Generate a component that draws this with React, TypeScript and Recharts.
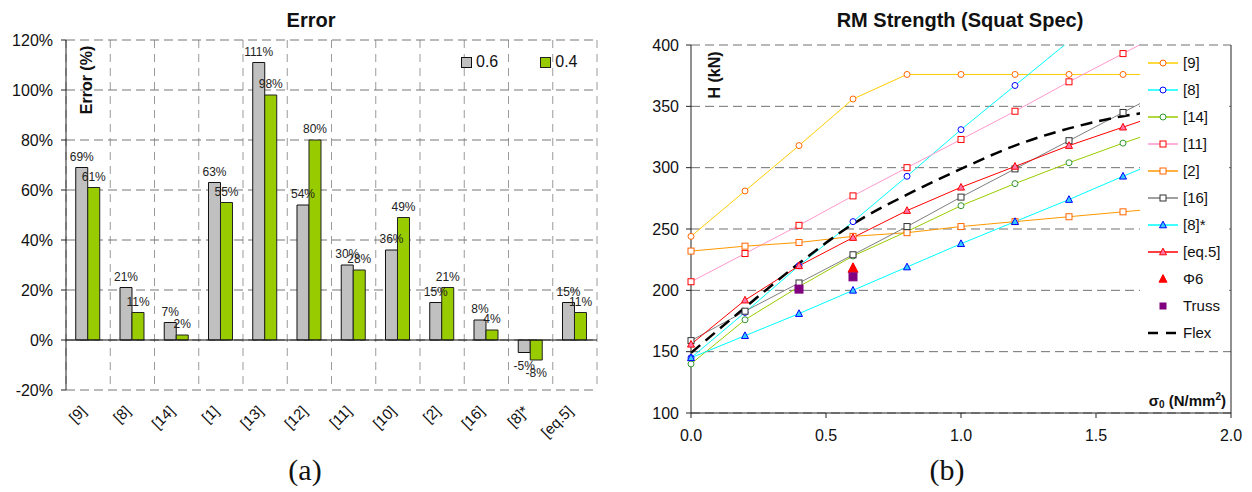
import React from 'react';
import {
  BarChart, Bar, XAxis, YAxis, CartesianGrid, ReferenceLine, LabelList,
  ComposedChart, Line,
} from 'recharts';

const FONT = '"Liberation Sans", Arial, sans-serif';
const SERIF = '"Liberation Serif", "Times New Roman", serif';

// (a) error per reference, two stress levels
const refs = ['[9]', '[8]', '[14]', '[1]', '[13]', '[12]', '[11]', '[10]', '[2]', '[16]', '[8]*', '[eq.5]'];
const err06 = [69, 21, 7, 63, 111, 54, 30, 36, 15, 8, -5, 15];
const err04 = [61, 11, 2, 55, 98, 80, 28, 49, 21, 4, -8, 11];
const errTicks = [-20, 0, 20, 40, 60, 80, 100, 120];

// (b) RM strength vs sigma0
const sigma = [0, 0.2, 0.4, 0.6, 0.8, 1.0, 1.2, 1.4, 1.6, 1.8];
const h9 = [244, 281, 318, 356, 376, 376, 376, 376, 376, 376];
const h8 = [145, 182, 220, 256, 293, 331, 367, 403];
const h14 = [140, 176, 203, 228, 248, 269, 287, 304, 320, 335];
const h11 = [207, 230, 253, 277, 300, 323, 346, 370, 393, 416];
const h2 = [232, 236, 239, 244, 247, 252, 256, 260, 264, 268];
const h16 = [159, 183, 206, 229, 252, 276, 299, 322, 345, 368];
const h8s = [145, 163, 181, 200, 219, 238, 256, 274, 293, 311];
const hEq5 = [156, 192, 220, 243, 265, 284, 301, 318, 333, 348];
const phi6X = [0.6];
const phi6 = [218];
const trussX = [0.4, 0.6];
const truss = [201, 211];
const flex = [149, 186, 222, 254, 278, 299, 318, 332, 342, 348];
const hTicks = [100, 150, 200, 250, 300, 350, 400];
const sTicks = [0, 0.5, 1, 1.5, 2];

const errData = refs.map((name, i) => ({ name, e06: err06[i], e04: err04[i] }));
const pts = (xs: number[], ys: number[]) => ys.map((y, i) => ({ x: xs[i], y }));

type Shape = 'circle' | 'square' | 'triangle' | 'none';
interface Series {
  name: string;
  data: { x: number; y: number }[];
  line: string;
  shape: Shape;
  mark: string;
  fill: string;
  size: number;
  width?: number;
  dash?: string;
  smooth?: boolean;
}

const series: Series[] = [
  { name: '[9]', data: pts(sigma, h9), line: '#FFCC00', shape: 'circle', mark: '#FF6600', fill: '#fff', size: 6 },
  { name: '[8]', data: pts(sigma, h8), line: '#00FFFF', shape: 'circle', mark: '#0000FF', fill: '#fff', size: 6 },
  { name: '[14]', data: pts(sigma, h14), line: '#99CC00', shape: 'circle', mark: '#339933', fill: '#fff', size: 6 },
  { name: '[11]', data: pts(sigma, h11), line: '#FF99CC', shape: 'square', mark: '#FF0000', fill: '#fff', size: 6 },
  { name: '[2]', data: pts(sigma, h2), line: '#FF9900', shape: 'square', mark: '#FF6600', fill: '#fff', size: 6 },
  { name: '[16]', data: pts(sigma, h16), line: '#808080', shape: 'square', mark: '#333333', fill: '#fff', size: 6 },
  { name: '[8]*', data: pts(sigma, h8s), line: '#00FFFF', shape: 'triangle', mark: '#0000FF', fill: '#33CCFF', size: 7 },
  { name: '[eq.5]', data: pts(sigma, hEq5), line: '#FF0000', shape: 'triangle', mark: '#FF0000', fill: '#FF77AA', size: 7 },
  { name: 'Φ6', data: pts(phi6X, phi6), line: 'none', shape: 'triangle', mark: '#FF0000', fill: '#FF0000', size: 10 },
  { name: 'Truss', data: pts(trussX, truss), line: 'none', shape: 'square', mark: '#800080', fill: '#800080', size: 8 },
  { name: 'Flex', data: pts(sigma, flex), line: '#000', shape: 'none', mark: '#000', fill: '#000', size: 0, width: 2.5, dash: '12 7', smooth: true },
];

function Marker({ cx, cy, s }: { cx: number; cy: number; s: Series }) {
  const h = s.size / 2;
  if (s.shape === 'circle') return <circle cx={cx} cy={cy} r={h} fill={s.fill} stroke={s.mark} strokeWidth={1} />;
  if (s.shape === 'square') return <rect x={cx - h} y={cy - h} width={s.size} height={s.size} fill={s.fill} stroke={s.mark} strokeWidth={1} />;
  if (s.shape === 'triangle') {
    const p = `${cx},${cy - h * 1.1} ${cx - h},${cy + h * 0.8} ${cx + h},${cy + h * 0.8}`;
    return <polygon points={p} fill={s.fill} stroke={s.mark} strokeWidth={1} />;
  }
  return null;
}

const barLabel = (props: any) => {
  const vb = props.viewBox ?? props;
  const x = vb.x ?? props.x;
  const y = vb.y ?? props.y;
  const w = vb.width ?? props.width;
  const hgt = vb.height ?? props.height;
  const v = Number(props.value);
  const top = Math.min(y, y + hgt);
  const bottom = Math.max(y, y + hgt);
  const ty = v < 0 ? bottom + 17 : top - 7;
  return (
    <text x={x + w / 2} y={ty} textAnchor="middle" fontSize={12} fontFamily={FONT} fill="#222">
      {v}%
    </text>
  );
};

const RotTick = (props: any) => {
  const { x, y, payload } = props;
  const px = x - 1;
  const py = y + 14;
  return (
    <text x={px} y={py} transform={`rotate(-45 ${px} ${py})`} textAnchor="end" fontSize={15} fontFamily={FONT} fill="#111">
      {payload.value}
    </text>
  );
};

const abs = (style: React.CSSProperties): React.CSSProperties => ({ position: 'absolute', whiteSpace: 'nowrap', ...style });

function ErrorChart() {
  return (
    <>
      <div style={abs({ left: 0, top: 0 })}>
        <BarChart width={620} height={492} data={errData} margin={{ top: 40, right: 23, bottom: 0, left: 0 }} barCategoryGap="22%" barGap={0}>
          <CartesianGrid
            horizontal={false}
            stroke="#9a9a9a"
            strokeDasharray="8 6"
            verticalCoordinatesGenerator={({ offset }: any) =>
              refs.map((_, i) => offset.left + (offset.width * i) / refs.length).concat(offset.left + offset.width)
            }
          />
          <CartesianGrid vertical={false} stroke="#777" strokeDasharray="9 5" />
          <XAxis dataKey="name" height={102} axisLine={false} tickLine={false} interval={0} tick={<RotTick />} />
          <YAxis
            width={66}
            domain={[-20, 120]}
            ticks={errTicks}
            interval={0}
            tickFormatter={(v: number) => `${v}%`}
            axisLine={{ stroke: '#222' }}
            tickLine={{ stroke: '#222' }}
            tickSize={5}
            tickMargin={8}
            tick={{ fontSize: 16, fill: '#111', fontFamily: FONT }}
          />
          <ReferenceLine y={0} stroke="#111" />
          <Bar dataKey="e06" fill="#C0C0C0" stroke="#111" strokeWidth={1} isAnimationActive={false}>
            <LabelList dataKey="e06" content={barLabel} />
          </Bar>
          <Bar dataKey="e04" fill="#99CC00" stroke="#222" strokeWidth={1} isAnimationActive={false}>
            <LabelList dataKey="e04" content={barLabel} />
          </Bar>
        </BarChart>
      </div>
      <div style={abs({ left: 111, top: 10, width: 400, textAlign: 'center', fontSize: 20, lineHeight: '20px', fontWeight: 'bold' })}>Error</div>
      <div style={abs({ left: 87, top: 80, fontSize: 16, lineHeight: '16px', fontWeight: 'bold', transform: 'translate(-50%,-50%) rotate(-90deg)' })}>Error (%)</div>
      <div style={abs({ left: 461, top: 54, fontSize: 16, lineHeight: '16px', display: 'flex', alignItems: 'center' })}>
        <span style={{ width: 9, height: 9, background: '#C0C0C0', border: '1px solid #111', marginRight: 4 }} />
        <span>0.6</span>
        <span style={{ width: 9, height: 9, background: '#99CC00', border: '1px solid #222', marginLeft: 42, marginRight: 4 }} />
        <span>0.4</span>
      </div>
      <div style={abs({ left: 205, top: 455, width: 200, textAlign: 'center', fontFamily: SERIF, fontSize: 30, lineHeight: '30px' })}>(a)</div>
    </>
  );
}

function LegendSymbol({ s }: { s: Series }) {
  return (
    <svg width={43} height={16} style={{ display: 'block' }}>
      {s.line !== 'none' && (
        <line x1={8} x2={38} y1={8} y2={8} stroke={s.line} strokeWidth={s.width ?? 1.5} strokeDasharray={s.dash ? '10 8' : undefined} />
      )}
      <Marker cx={23} cy={8} s={s.line === 'none' ? { ...s, size: s.size - 2 } : s} />
    </svg>
  );
}

function StrengthChart() {
  return (
    <>
      <div style={abs({ left: 630, top: 0 })}>
        <ComposedChart width={622} height={492} margin={{ top: 45, right: 21, bottom: 0, left: 0 }}>
          <CartesianGrid vertical={false} stroke="#707070" strokeDasharray="9 5" />
          <XAxis
            type="number"
            dataKey="x"
            domain={[0, 2]}
            ticks={sTicks}
            interval={0}
            height={79}
            tickFormatter={(v: number) => v.toFixed(1)}
            axisLine={{ stroke: '#222' }}
            tickLine={{ stroke: '#222' }}
            tickSize={5}
            tickMargin={12}
            tick={{ fontSize: 16, fill: '#111', fontFamily: FONT }}
          />
          <YAxis
            type="number"
            domain={[100, 400]}
            ticks={hTicks}
            interval={0}
            allowDataOverflow
            width={61}
            axisLine={{ stroke: '#222' }}
            tickLine={{ stroke: '#222' }}
            tickSize={5}
            tickMargin={7}
            tick={{ fontSize: 16, fill: '#111', fontFamily: FONT }}
          />
          <ReferenceLine x={2} stroke="#222" />
          {series.map((s) => (
            <Line
              key={s.name}
              data={s.data}
              dataKey="y"
              name={s.name}
              type={s.smooth ? 'monotone' : 'linear'}
              stroke={s.line}
              strokeWidth={s.width ?? 1}
              strokeDasharray={s.dash}
              isAnimationActive={false}
              dot={(p: any) =>
                p.payload && p.payload.y > 400 ? <g key={`${s.name}-${p.index}`} /> : (
                  <g key={`${s.name}-${p.index}`}>
                    <Marker cx={p.cx} cy={p.cy} s={s} />
                  </g>
                )
              }
              activeDot={false}
            />
          ))}
        </ComposedChart>
      </div>
      <div style={abs({ left: 760, top: 10, width: 400, textAlign: 'center', fontSize: 20, lineHeight: '20px', fontWeight: 'bold' })}>
        RM Strength (Squat Spec)
      </div>
      <div style={abs({ left: 715, top: 75, fontSize: 16, lineHeight: '16px', fontWeight: 'bold', transform: 'translate(-50%,-50%) rotate(-90deg)' })}>H (kN)</div>
      <div style={abs({ left: 1140, top: 48, width: 89, height: 297, background: '#fff', paddingTop: 1 })}>
        {series.map((s) => (
          <div key={s.name} style={{ display: 'flex', alignItems: 'center', height: 27, fontSize: 15 }}>
            <LegendSymbol s={s} />
            <span>{s.name}</span>
          </div>
        ))}
      </div>
      <div style={abs({ left: 1060, top: 388, width: 166, textAlign: 'right', fontSize: 15, lineHeight: '18px', fontWeight: 'bold' })}>
        σ<sub style={{ fontSize: 10, verticalAlign: '-2px' }}>0</sub> (N/mm<sup style={{ fontSize: 10, verticalAlign: '6px' }}>2</sup>)
      </div>
      <div style={abs({ left: 847, top: 455, width: 200, textAlign: 'center', fontFamily: SERIF, fontSize: 30, lineHeight: '30px' })}>(b)</div>
    </>
  );
}

export default function App() {
  return (
    <div style={{ position: 'absolute', left: 0, top: 0, width: 1252, height: 492, background: '#fff', fontFamily: FONT, color: '#111', overflow: 'hidden' }}>
      <ErrorChart />
      <StrengthChart />
    </div>
  );
}
